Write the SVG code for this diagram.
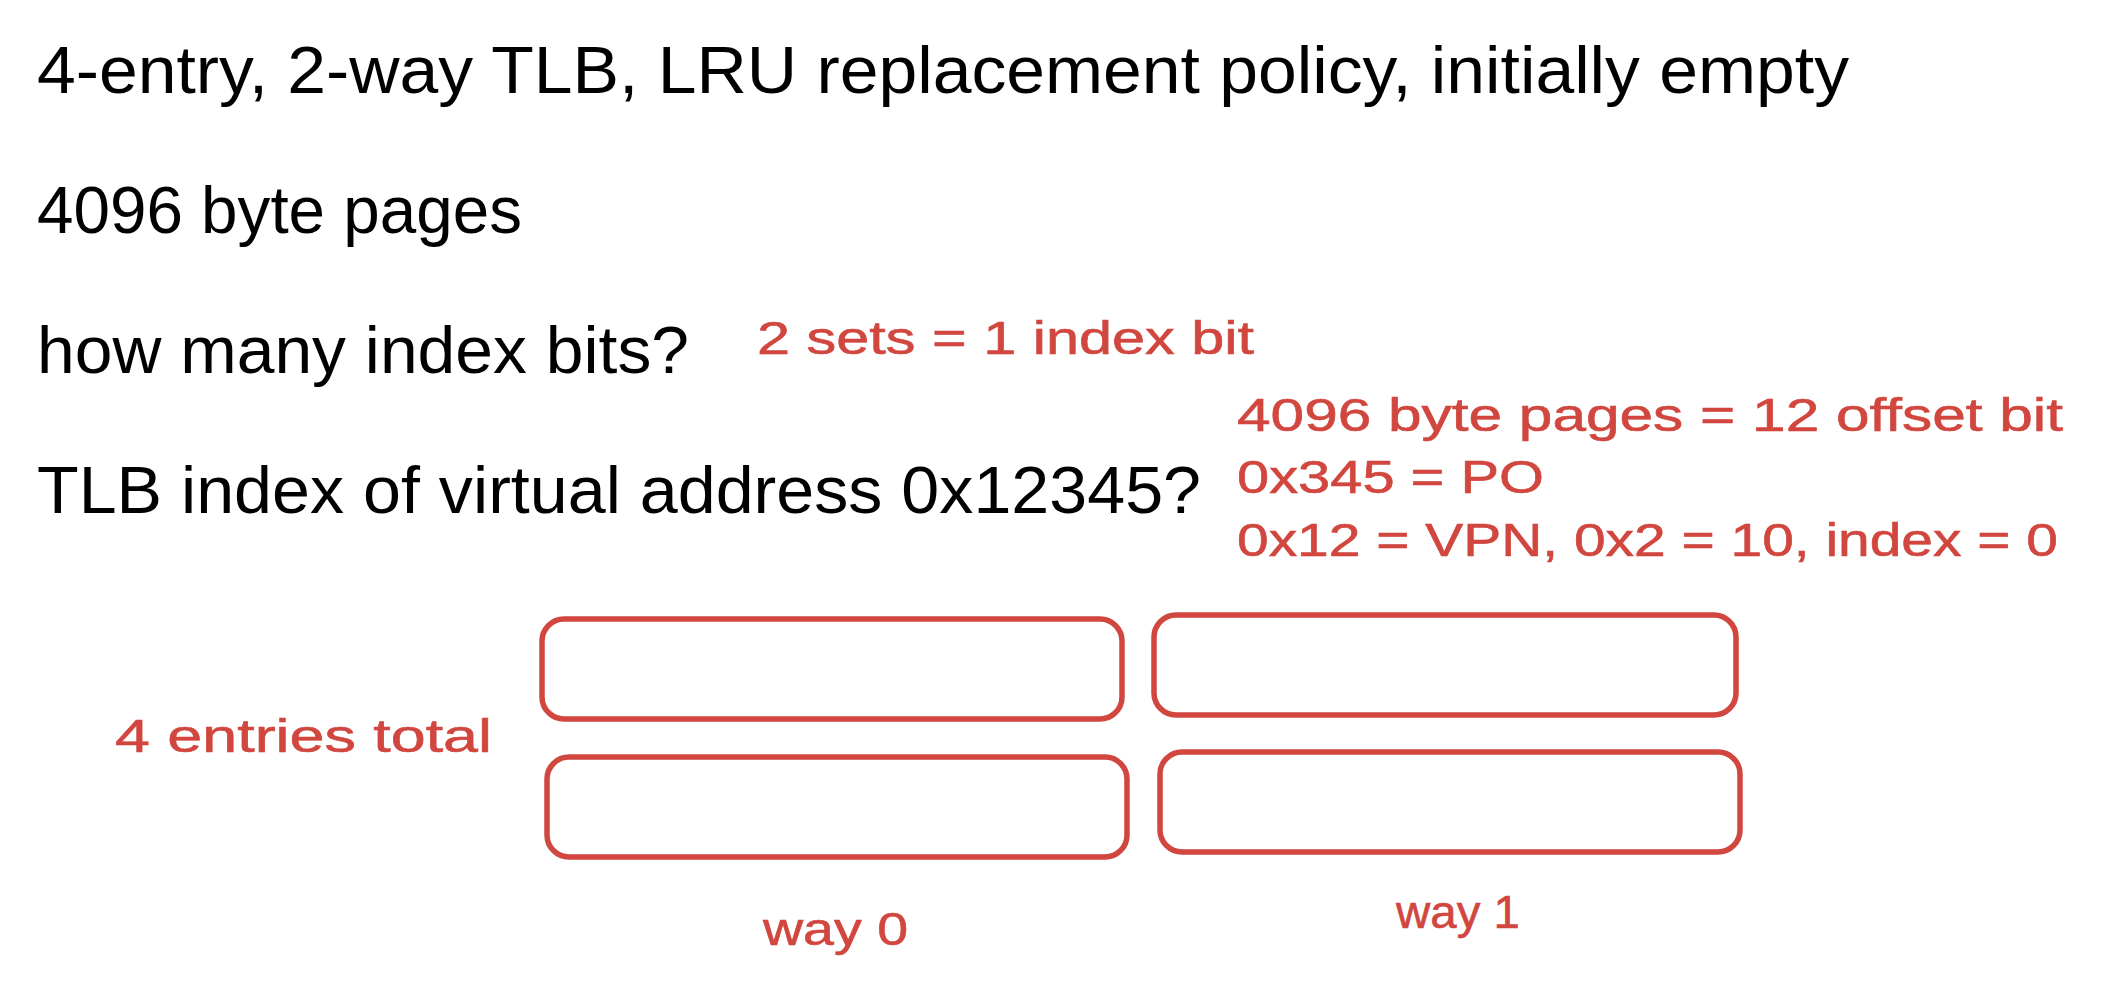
<svg xmlns="http://www.w3.org/2000/svg" width="2116" height="996" viewBox="0 0 2116 996">
<style>
.q{font-family:"Liberation Sans",Arial,sans-serif;font-size:67px;fill:#000}
.h{font-family:"Liberation Sans",Arial,sans-serif;font-size:47px;fill:#d1463e;stroke:#d1463e;stroke-width:0.6}
.box{fill:none;stroke:#d1463e;stroke-width:5.5}
</style>
<rect width="2116" height="996" fill="#fff"/>
<g id="questions">
<text class="q" x="37" y="93" textLength="1812" lengthAdjust="spacingAndGlyphs">4-entry, 2-way TLB, LRU replacement policy, initially empty</text>
<text class="q" x="37" y="233" textLength="485" lengthAdjust="spacingAndGlyphs">4096 byte pages</text>
<text class="q" x="37" y="373" textLength="652" lengthAdjust="spacingAndGlyphs">how many index bits?</text>
<text class="q" x="37" y="513" textLength="1164" lengthAdjust="spacingAndGlyphs">TLB index of virtual address 0x12345?</text>
</g>
<g id="notes">
<text class="h" x="757" y="354" textLength="497" lengthAdjust="spacingAndGlyphs">2 sets = 1 index bit</text>
<text class="h" x="1237" y="431" textLength="826" lengthAdjust="spacingAndGlyphs">4096 byte pages = 12 offset bit</text>
<text class="h" x="1237" y="493" textLength="307" lengthAdjust="spacingAndGlyphs">0x345 = PO</text>
<text class="h" x="1237" y="556" textLength="821" lengthAdjust="spacingAndGlyphs">0x12 = VPN, 0x2 = 10, index = 0</text>
<text class="h" x="115" y="752" textLength="377" lengthAdjust="spacingAndGlyphs">4 entries total</text>
<text class="h" x="763" y="945" textLength="145" lengthAdjust="spacingAndGlyphs">way 0</text>
<text class="h" x="1396" y="928" textLength="124" lengthAdjust="spacingAndGlyphs">way 1</text>
</g>
<g id="entry-set0-way0"><rect class="box" x="542" y="619" width="580" height="100" rx="22"/></g>
<g id="entry-set0-way1"><rect class="box" x="1154" y="615" width="582" height="100" rx="22"/></g>
<g id="entry-set1-way0"><rect class="box" x="547" y="757" width="580" height="100" rx="22"/></g>
<g id="entry-set1-way1"><rect class="box" x="1160" y="752" width="580" height="100" rx="22"/></g>
<g id="connectors"/>
</svg>
